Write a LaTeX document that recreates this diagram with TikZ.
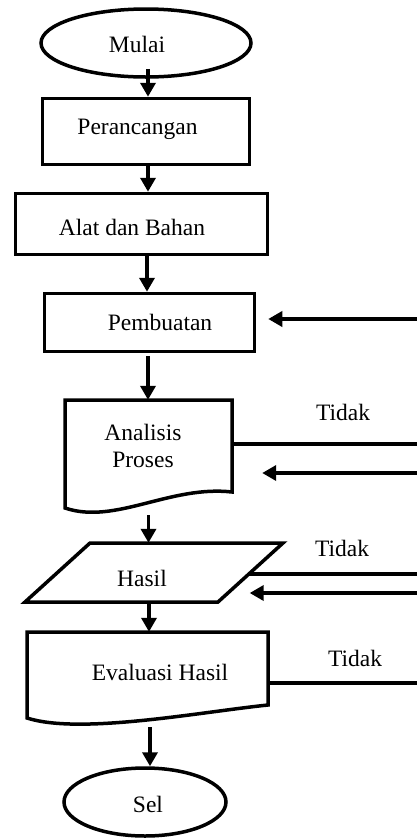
\documentclass[tikz,border=0pt]{standalone}
\usepackage{fontspec}
\setmainfont{Liberation Serif}
\usetikzlibrary{shapes.geometric,arrows.meta}
\tikzset{
  shapeline/.style={line width=3.5pt, line join=miter},
  boxnode/.style={draw, shapeline, rectangle, inner sep=0pt},
  ovalnode/.style={draw, shapeline, ellipse, inner sep=0pt},
  ghost/.style={rectangle, inner sep=0pt, draw=none},
  lbl/.style={font=\fontsize{23.5}{26}\selectfont, inner sep=0pt, align=center},
  flow/.style={line width=3.5pt, -{Triangle[length=14pt,width=15pt]}},
  plain/.style={line width=3.5pt}
}
\begin{document}
\begin{tikzpicture}[x=1pt,y=-1pt]
\useasboundingbox (0,0) rectangle (416,839);
% shapes
\node[ovalnode, minimum width=210pt, minimum height=68pt] (mulai) at (146,43) {};
\node[boxnode, minimum width=207pt, minimum height=66pt] (peran) at (146,131.5) {};
\node[boxnode, minimum width=252pt, minimum height=61pt] (alat) at (141.5,224) {};
\node[boxnode, minimum width=210pt, minimum height=58pt] (pemb) at (149.5,322.5) {};
\node[ghost, minimum width=167pt, minimum height=108pt] (ana) at (148.5,454) {};
\draw[shapeline] (65,508) -- (65,400) -- (232,400) -- (232,492)
  .. controls (170,485) and (115,525) .. (65,508) -- cycle;
\node[ghost, minimum width=193pt, minimum height=59pt] (hasil) at (154,572.5) {};
\draw[shapeline] (90,543) -- (283,543) -- (218,602) -- (25,602) -- cycle;
\node[ghost, minimum width=241pt, minimum height=86pt] (eval) at (147.5,675) {};
\draw[shapeline] (27,718) -- (27,632) -- (268,632) -- (268,705)
  .. controls (200,712) and (80,735) .. (27,718) -- cycle;
\node[ovalnode, minimum width=162pt, minimum height=68pt] (sel) at (145,802) {};
% texts
\node[lbl] (tmulai) at (137,44) {Mulai};
\node[lbl] (tperan) at (137.5,129) {Perancangan};
\node[lbl] (talat) at (132,227) {Alat dan Bahan};
\node[lbl] (tpemb) at (160,322) {Pembuatan};
\node[lbl] (tana) at (143,446) {Analisis\\[1pt]Proses};
\node[lbl] (thasil) at (142,578) {Hasil};
\node[lbl] (teval) at (160,672) {Evaluasi Hasil};
\node[lbl] (tsel) at (148,804) {Sel};
\node[lbl] (tid1) at (343,412) {Tidak};
\node[lbl] (tid2) at (342,548) {Tidak};
\node[lbl] (tid3) at (355,658) {Tidak};
% free ends at right edge
\coordinate (r1) at (418,319);
\coordinate (r2) at (418,444);
\coordinate (r3) at (418,473);
\coordinate (r4) at (418,574);
\coordinate (r5) at (418,593);
\coordinate (r6) at (418,683);
\coordinate (h4) at (249,574);
% vertical flow
\draw[flow] ([xshift=2pt,yshift=10pt]mulai.south) -- ([xshift=2pt]peran.north);
\draw[flow] ([xshift=2pt]peran.south) -- ([xshift=2pt]peran.south |- alat.north);
\draw[flow] ([xshift=5.5pt]alat.south) -- ([xshift=5.5pt]alat.south |- pemb.north);
\draw[flow] ([xshift=-1.5pt,yshift=-3pt]pemb.south) -- ([xshift=-1.5pt]pemb.south |- ana.north);
\draw[flow] ([yshift=-7pt]ana.south) -- (ana.south |- hasil.north);
\draw[flow] ([xshift=1.5pt]eval.north |- hasil.south) -- ([xshift=1.5pt]eval.north);
\draw[flow] ([xshift=2.5pt,yshift=-9pt]eval.south) -- ([xshift=2.5pt]eval.south |- sel.north);
% side connectors
\draw[flow] (r1) -- ([xshift=12pt]pemb.east |- r1);
\draw[plain] (ana.east |- r2) -- (r2);
\draw[flow] (r3) -- ([xshift=30pt]ana.east |- r3);
\draw[plain] (h4) -- (r4);
\draw[flow] (r5) -- ([xshift=-1pt]hasil.east |- r5);
\draw[plain] (eval.east |- r6) -- (r6);
\end{tikzpicture}
\end{document}
